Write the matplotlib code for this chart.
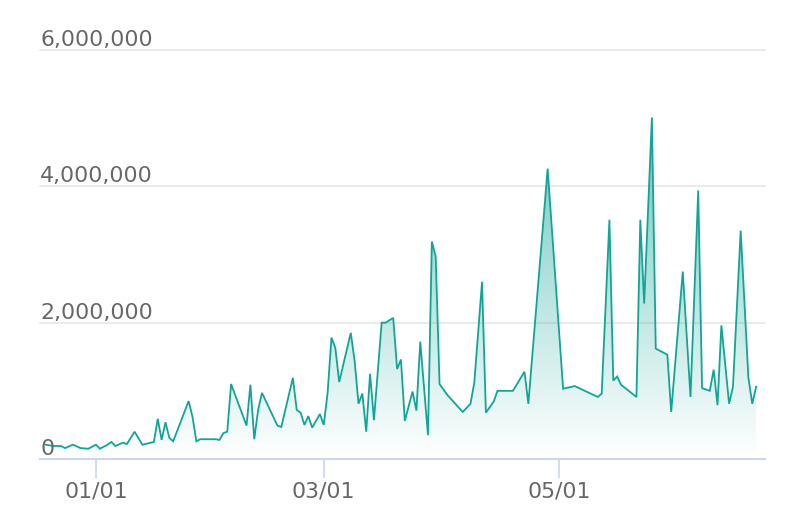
import numpy as np
import matplotlib
matplotlib.use("Agg")
from matplotlib import pyplot as plt
import matplotlib.dates as mdates
from matplotlib.colors import to_rgb
from matplotlib.transforms import offset_copy

# days counted from 1 Jan, values in millions
day_offsets = [
    -13, -11, -9, -8, -6, -4, -2, 0, 1, 3, 4, 5, 7, 8, 10, 12, 15, 16, 17, 18,
    19, 20, 24, 25, 26, 27, 31, 32, 33, 34, 35, 39, 40, 41, 42, 43, 47, 48, 51, 52,
    53, 54, 55, 56, 58, 59, 60, 61, 62, 63, 66, 67, 68, 69, 70, 71, 72, 74, 75, 77,
    78, 79, 80, 82, 83, 84, 86, 87, 88, 89, 91, 95, 97, 98, 100, 101, 103, 104, 108, 111,
    112, 117, 121, 124, 130, 131, 133, 134, 135, 136, 140, 141, 142, 144, 145, 148, 149, 152, 154, 156,
    157, 159, 160, 161, 162, 164, 165, 167, 169, 170, 171,
]
values_m = [
    0.21, 0.19, 0.19, 0.16, 0.21, 0.16, 0.15, 0.21, 0.15, 0.21, 0.25, 0.19, 0.24, 0.22, 0.40, 0.21, 0.25, 0.59, 0.28, 0.54,
    0.31, 0.26, 0.85, 0.62, 0.26, 0.29, 0.29, 0.28, 0.38, 0.40, 1.10, 0.49, 1.09, 0.29, 0.72, 0.97, 0.49, 0.47, 1.19, 0.72,
    0.68, 0.50, 0.63, 0.46, 0.66, 0.50, 0.97, 1.78, 1.63, 1.13, 1.85, 1.44, 0.81, 0.96, 0.40, 1.25, 0.57, 2.00, 2.00, 2.07,
    1.32, 1.46, 0.56, 0.99, 0.71, 1.72, 0.35, 3.19, 2.97, 1.10, 0.94, 0.69, 0.81, 1.12, 2.60, 0.68, 0.84, 1.00, 1.00, 1.28,
    0.81, 4.26, 1.03, 1.07, 0.91, 0.96, 3.51, 1.15, 1.21, 1.09, 0.91, 3.51, 2.28, 5.01, 1.62, 1.53, 0.69, 2.75, 0.91, 3.94,
    1.04, 1.00, 1.31, 0.79, 1.96, 0.81, 1.06, 3.35, 1.19, 0.81, 1.06,
]
y_ticks = [0, 2_000_000, 4_000_000, 6_000_000]
x_tick_dates = ["2023-01-01", "2023-03-01", "2023-05-01"]

teal = "#12a597"
label_color = "#666666"

base = mdates.date2num(np.datetime64("2023-01-01"))
x = base + np.array(day_offsets, dtype=float)
y = np.array(values_m) * 1e6

fig = plt.figure(figsize=(7.96, 5.32), dpi=100)
ax = fig.add_axes([40 / 796, 73 / 532, 725 / 796, 409 / 532])

# gradient fill under the line
poly = ax.fill_between(x, y, 0, color="none", lw=0)
path = poly.get_paths()[0]
n = 256
rgba = np.zeros((n, 1, 4))
rgba[..., :3] = to_rgb(teal)
rgba[..., 3] = np.linspace(0.75, 0.0, n).reshape(-1, 1)
x0, x1 = base - 14.5, base + 173.3
im = ax.imshow(rgba, extent=[x0, x1, 0, 6e6], aspect="auto", origin="upper",
               interpolation="bilinear", zorder=1)
im.set_clip_path(path, ax.transData)

ax.plot(x, y, color=teal, lw=1.3, zorder=3, solid_joinstyle="miter")

ax.set_xlim(x0, x1)
ax.set_ylim(0, 6e6)

# y grid and labels
ax.set_yticks(y_ticks)
ax.yaxis.grid(True, color="#e6e6e6", lw=1.1)
for gl in ax.get_ygridlines():
    gl.set_clip_on(False)
ax.tick_params(axis="y", length=0, labelleft=False)
trans = offset_copy(ax.get_yaxis_transform(), fig=fig, y=0, units="dots")
for v in y_ticks:
    ax.text(0, v, f"{v:,}", transform=trans, ha="left", va="bottom",
            fontsize=15.8, color=label_color, zorder=4)

# x axis
ax.set_xticks(mdates.date2num(np.array(x_tick_dates, dtype="datetime64[D]")))
ax.xaxis.set_major_formatter(mdates.DateFormatter("%m/%d"))
ax.tick_params(axis="x", length=14, width=1.2, color="#ccd6eb", pad=2,
               labelsize=15.8, labelcolor=label_color)

for side in ["top", "left", "right"]:
    ax.spines[side].set_visible(False)
ax.spines["bottom"].set_color("#ccd6eb")
ax.spines["bottom"].set_linewidth(1.5)
ax.set_axisbelow(True)

fig.savefig("out.png", dpi=100)
